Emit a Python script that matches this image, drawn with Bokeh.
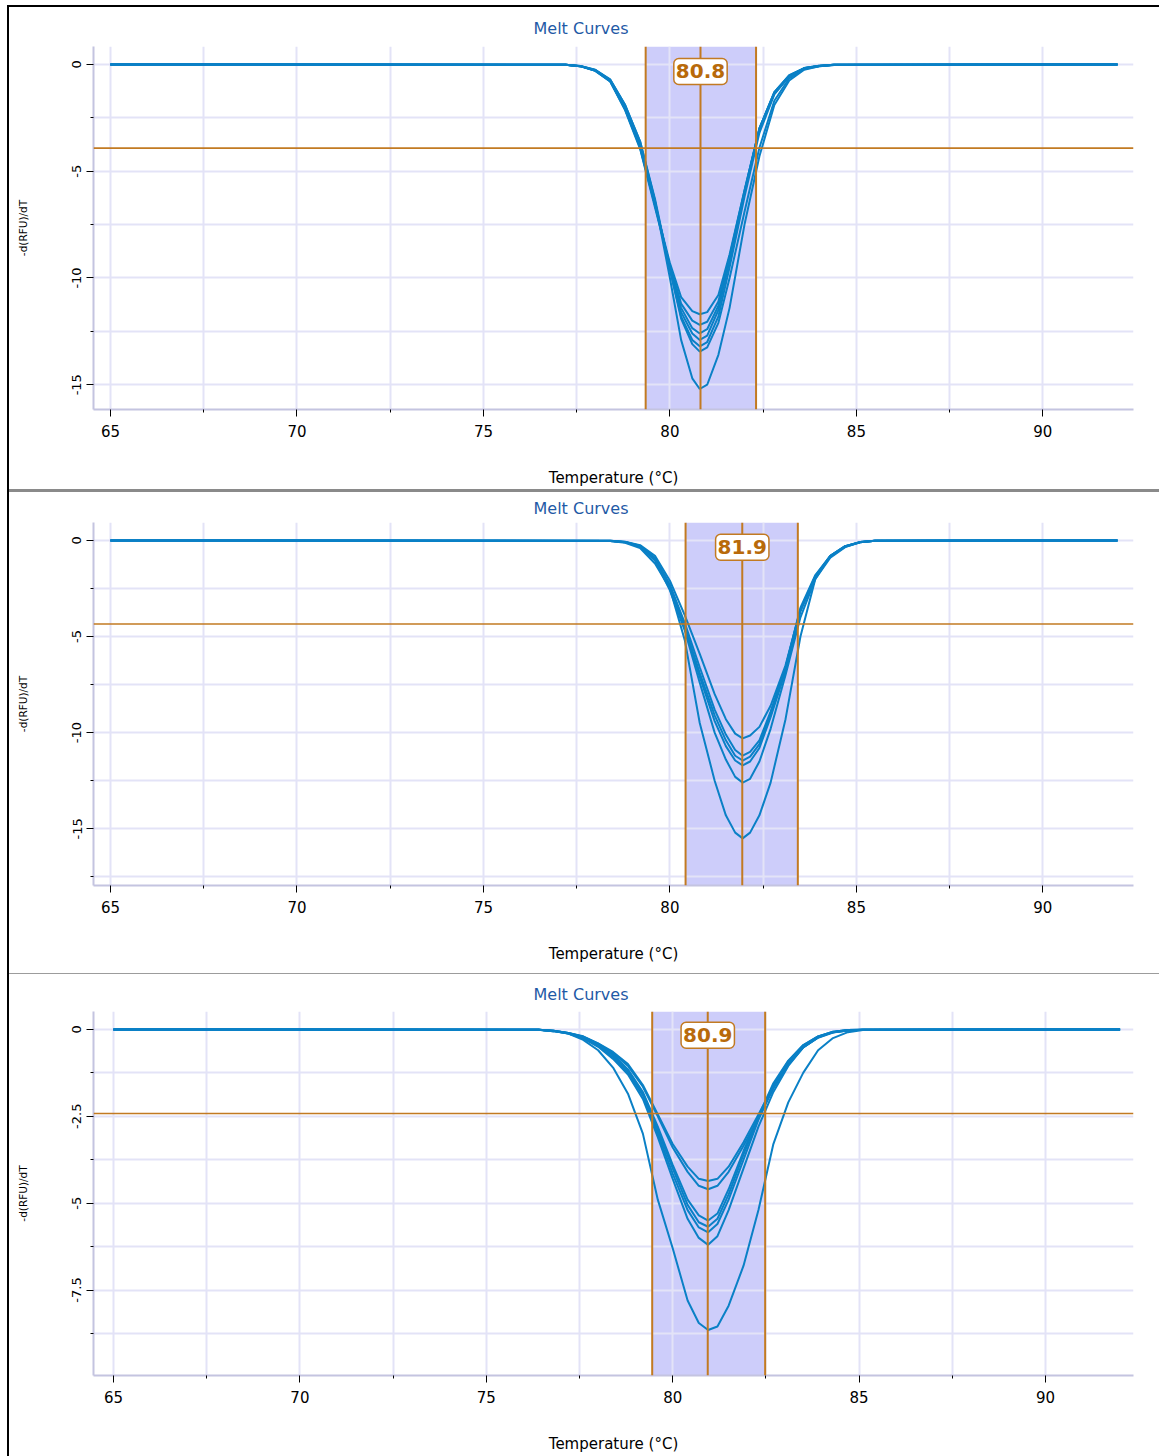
from bokeh.plotting import figure
from bokeh.models import (Span, BoxAnnotation, Label, FixedTicker, Range1d, Div, Spacer)
from bokeh.layouts import column, row
from bokeh.embed import file_html
from bokeh.resources import INLINE

# ---------------- text ----------------
TITLE = "Melt Curves"
X_LABEL = "Temperature (°C)"
Y_LABEL = "-d(RFU)/dT"

x_ticks = [65, 70, 75, 80, 85, 90]
x_tick_labels = ["65", "70", "75", "80", "85", "90"]
x_minor_ticks = [67.5, 72.5, 77.5, 82.5, 87.5]

# ---------------- panel 1 ----------------
p1_temp = [65.0, 77.2, 77.6, 78.0, 78.4, 78.8, 79.2, 79.6, 80.0, 80.3, 80.6, 80.8,
           81.0, 81.3, 81.6, 82.0, 82.4, 82.8, 83.2, 83.6, 84.0, 84.4, 92.0]
p1_well_1 = [0, -0.02, -0.08, -0.28, -0.78, -2.1, -3.9, -6.6, -9.3, -10.9, -11.55, -11.7,
             -11.6, -10.8, -8.9, -5.9, -3.0, -1.35, -0.55, -0.18, -0.07, -0.02, 0]
p1_well_2 = [0, -0.02, -0.08, -0.3, -0.8, -2.15, -3.95, -6.7, -9.4, -11.2, -12.0, -12.2,
             -12.05, -11.1, -9.0, -5.9, -3.0, -1.3, -0.52, -0.17, -0.06, -0.02, 0]
p1_well_3 = [0, -0.02, -0.09, -0.3, -0.8, -2.1, -3.85, -6.6, -9.5, -11.4, -12.35, -12.6,
             -12.4, -11.3, -9.1, -6.0, -3.05, -1.35, -0.53, -0.18, -0.07, -0.02, 0]
p1_well_4 = [0, -0.02, -0.08, -0.28, -0.76, -2.0, -3.8, -6.5, -9.5, -11.6, -12.6, -12.9,
             -12.7, -11.5, -9.2, -6.0, -3.0, -1.3, -0.5, -0.17, -0.06, -0.02, 0]
p1_well_5 = [0, -0.02, -0.08, -0.27, -0.74, -1.95, -3.7, -6.4, -9.6, -11.8, -12.9, -13.2,
             -13.0, -11.8, -9.5, -6.2, -3.2, -1.4, -0.56, -0.19, -0.07, -0.02, 0]
p1_well_6 = [0, -0.02, -0.07, -0.25, -0.7, -1.9, -3.6, -6.3, -9.6, -11.9, -13.1, -13.45,
             -13.25, -12.1, -10.0, -6.9, -3.9, -1.7, -0.65, -0.22, -0.08, -0.03, 0]
p1_well_7 = [0, -0.02, -0.07, -0.26, -0.72, -1.9, -3.6, -6.4, -10.0, -12.9, -14.7, -15.2,
             -15.0, -13.6, -11.4, -7.5, -4.3, -1.9, -0.75, -0.25, -0.09, -0.03, 0]
p1_peak = 80.82
p1_peak_text = "80.8"
p1_band = [79.35, 82.31]
p1_threshold = -3.92
p1_y_ticks = [0, -5, -10, -15]
p1_y_tick_labels = ["0", "-5", "-10", "-15"]
p1_y_minor = [-2.5, -7.5, -12.5]

# ---------------- panel 2 ----------------
p2_temp = [65.0, 78.4, 78.8, 79.2, 79.6, 80.0, 80.4, 80.8, 81.2, 81.5, 81.75, 81.95,
           82.15, 82.4, 82.7, 83.1, 83.5, 83.9, 84.3, 84.7, 85.1, 85.5, 92.0]
p2_well_1 = [0, -0.02, -0.07, -0.25, -0.8, -2.1, -3.9, -5.9, -8.0, -9.3, -10.05, -10.3,
             -10.15, -9.7, -8.6, -6.5, -3.6, -1.9, -0.85, -0.33, -0.1, -0.02, 0]
p2_well_2 = [0, -0.02, -0.08, -0.28, -0.9, -2.3, -4.3, -6.6, -8.8, -10.1, -10.9, -11.2,
             -11.0, -10.4, -8.9, -6.6, -3.6, -1.85, -0.8, -0.3, -0.09, -0.02, 0]
p2_well_3 = [0, -0.02, -0.08, -0.3, -0.95, -2.4, -4.5, -6.9, -9.1, -10.4, -11.2, -11.45,
             -11.25, -10.6, -9.0, -6.6, -3.5, -1.8, -0.8, -0.3, -0.09, -0.02, 0]
p2_well_4 = [0, -0.03, -0.1, -0.32, -1.0, -2.5, -4.6, -7.1, -9.4, -10.7, -11.45, -11.7,
             -11.5, -10.8, -9.2, -6.8, -3.7, -1.9, -0.85, -0.32, -0.1, -0.02, 0]
p2_well_5 = [0, -0.03, -0.1, -0.35, -1.05, -2.6, -4.7, -7.4, -10.0, -11.4, -12.3, -12.6,
             -12.4, -11.5, -9.8, -7.0, -4.0, -2.0, -0.9, -0.35, -0.1, -0.02, 0]
p2_well_6 = [0, -0.03, -0.12, -0.4, -1.2, -2.5, -5.2, -9.5, -12.5, -14.3, -15.2, -15.5,
             -15.2, -14.3, -12.6, -9.3, -5.0, -2.0, -0.8, -0.3, -0.08, -0.02, 0]
p2_peak = 81.94
p2_peak_text = "81.9"
p2_band = [80.42, 83.43]
p2_threshold = -4.35
p2_y_ticks = [0, -5, -10, -15]
p2_y_tick_labels = ["0", "-5", "-10", "-15"]
p2_y_minor = [-2.5, -7.5, -12.5, -17.5]

# ---------------- panel 3 ----------------
p3_temp = [65.0, 76.4, 76.8, 77.2, 77.6, 78.0, 78.4, 78.8, 79.2, 79.6, 80.0, 80.4, 80.7,
           80.95, 81.2, 81.5, 81.9, 82.3, 82.7, 83.1, 83.5, 83.9, 84.3, 84.7, 85.1, 92.0]
p3_well_1 = [0, -0.01, -0.04, -0.1, -0.2, -0.4, -0.65, -1.0, -1.6, -2.45, -3.3, -3.95, -4.3,
             -4.36, -4.3, -3.95, -3.25, -2.45, -1.65, -1.0, -0.52, -0.24, -0.09, -0.03, -0.01, 0]
p3_well_2 = [0, -0.01, -0.04, -0.1, -0.21, -0.41, -0.68, -1.05, -1.65, -2.5, -3.4, -4.1, -4.5,
             -4.6, -4.5, -4.1, -3.35, -2.55, -1.7, -1.02, -0.52, -0.23, -0.08, -0.03, -0.01, 0]
p3_well_3 = [0, -0.01, -0.04, -0.1, -0.22, -0.42, -0.72, -1.15, -1.8, -2.8, -3.9, -4.9, -5.35,
             -5.5, -5.3, -4.6, -3.5, -2.5, -1.55, -0.9, -0.45, -0.2, -0.07, -0.02, -0.01, 0]
p3_well_4 = [0, -0.01, -0.04, -0.11, -0.23, -0.44, -0.75, -1.2, -1.85, -2.9, -4.0, -5.05, -5.55,
             -5.68, -5.45, -4.75, -3.6, -2.55, -1.6, -0.92, -0.46, -0.2, -0.07, -0.02, -0.01, 0]
p3_well_5 = [0, -0.01, -0.05, -0.12, -0.25, -0.47, -0.8, -1.25, -1.9, -3.0, -4.15, -5.2, -5.7,
             -5.84, -5.6, -4.9, -3.75, -2.6, -1.65, -0.95, -0.48, -0.21, -0.08, -0.02, -0.01, 0]
p3_well_6 = [0, -0.01, -0.05, -0.12, -0.26, -0.5, -0.85, -1.3, -2.0, -3.1, -4.3, -5.45, -6.0,
             -6.2, -5.95, -5.2, -4.0, -2.8, -1.8, -1.05, -0.52, -0.23, -0.08, -0.03, -0.01, 0]
p3_well_7 = [0, -0.01, -0.05, -0.12, -0.3, -0.6, -1.1, -1.85, -3.0, -4.9, -6.3, -7.8, -8.45,
             -8.65, -8.55, -7.95, -6.8, -5.2, -3.3, -2.1, -1.25, -0.6, -0.25, -0.08, -0.02, 0]
p3_peak = 80.94
p3_peak_text = "80.9"
p3_band = [79.45, 82.48]
p3_threshold = -2.42
p3_y_ticks = [0, -2.5, -5, -7.5]
p3_y_tick_labels = ["0", "-2.5", "-5", "-7.5"]
p3_y_minor = [-1.25, -3.75, -6.25, -8.75]

# ---------------- style ----------------
FONT = "DejaVu Sans"
CURVE = "#0a80c6"
ORANGE = "#c27a22"
PEAK_TEXT = "#b86a0a"
BAND = "#cdcdfa"
GRID = "#e3e3f7"
AXIS = "#c4c4e0"
TITLE_COLOR = "#1f5aa6"


def make_panel(temp, wells, peak, peak_text, band, thr, yt, ytl, yminor,
               xr, yr, height, tb, bb, label_y, title_standoff):
    p = figure(width=1150, height=height, x_range=Range1d(*xr), y_range=Range1d(*yr),
               output_backend="svg", toolbar_location=None, title=TITLE,
               min_border_left=84, min_border_right=26, min_border_top=tb,
               min_border_bottom=bb)
    p.background_fill_color = "white"
    p.border_fill_color = "white"
    p.outline_line_color = None

    p.title.text_font = FONT
    p.title.text_font_size = "16px"
    p.title.text_font_style = "normal"
    p.title.text_color = TITLE_COLOR
    p.title.align = "left"
    p.title.offset = 440
    p.title.standoff = title_standoff

    p.add_layout(BoxAnnotation(left=band[0], right=band[1], fill_color=BAND,
                               fill_alpha=1.0, line_alpha=0, level="image"))

    for w in wells:
        p.line(temp, w, line_color=CURVE, line_width=2)

    for loc in (band[0], band[1], peak):
        p.add_layout(Span(location=loc, dimension="height", line_color=ORANGE, line_width=2))
    p.add_layout(Span(location=thr, dimension="width", line_color=ORANGE, line_width=1.6))

    p.add_layout(Label(x=peak, y=label_y, text=peak_text, text_align="center",
                       text_baseline="middle", text_font=FONT, text_font_size="20px",
                       text_font_style="bold", text_color=PEAK_TEXT,
                       background_fill_color="white", border_line_color=ORANGE,
                       border_line_width=1.5, padding=(2, 6), border_radius=5))

    xa = p.xaxis[0]
    xa.ticker = FixedTicker(ticks=x_ticks, minor_ticks=x_minor_ticks)
    xa.major_label_overrides = {t: l for t, l in zip(x_ticks, x_tick_labels)}
    xa.axis_label = X_LABEL
    ya = p.yaxis[0]
    ya.ticker = FixedTicker(ticks=yt, minor_ticks=yminor)
    ya.major_label_overrides = {t: l for t, l in zip(yt, ytl)}
    ya.major_label_orientation = "vertical"
    ya.axis_label = Y_LABEL

    for ax in (xa, ya):
        ax.axis_line_color = AXIS
        ax.axis_line_width = 2
        ax.major_tick_line_color = "black"
        ax.major_tick_out = 7
        ax.major_tick_in = 0
        ax.minor_tick_line_color = "black"
        ax.minor_tick_out = 3
        ax.minor_tick_in = 0
        ax.major_label_text_font = FONT
        ax.major_label_text_color = "black"
        ax.axis_label_text_font = FONT
        ax.axis_label_text_font_style = "normal"
        ax.axis_label_text_color = "black"
    xa.major_label_text_font_size = "15px"
    ya.major_label_text_font_size = "13px"
    xa.axis_label_text_font_size = "15px"
    ya.axis_label_text_font_size = "10.5px"
    xa.major_label_standoff = 8
    xa.axis_label_standoff = 29
    ya.major_label_standoff = 5
    ya.axis_label_standoff = 41

    for g in (p.xgrid[0], p.ygrid[0]):
        g.grid_line_color = GRID
        g.grid_line_width = 2
        g.minor_grid_line_color = GRID
        g.minor_grid_line_width = 2
    return p


p1 = make_panel(p1_temp, [p1_well_1, p1_well_2, p1_well_3, p1_well_4, p1_well_5, p1_well_6, p1_well_7],
                p1_peak, p1_peak_text, p1_band, p1_threshold, p1_y_ticks, p1_y_tick_labels, p1_y_minor,
                (64.545, 92.43), (-16.16, 0.84), 482, 38, 79, -0.33, 18)
p2 = make_panel(p2_temp, [p2_well_1, p2_well_2, p2_well_3, p2_well_4, p2_well_5, p2_well_6],
                p2_peak, p2_peak_text, p2_band, p2_threshold, p2_y_ticks, p2_y_tick_labels, p2_y_minor,
                (64.545, 92.43), (-17.95, 0.93), 481, 28, 88, -0.36, 9)
p3 = make_panel(p3_temp, [p3_well_1, p3_well_2, p3_well_3, p3_well_4, p3_well_5, p3_well_6, p3_well_7],
                p3_peak, p3_peak_text, p3_band, p3_threshold, p3_y_ticks, p3_y_tick_labels, p3_y_minor,
                (64.464, 92.36), (-9.96, 0.515), 482, 35, 81, -0.17, 16)

black = {"background-color": "black"}
sep1 = Div(width=1150, height=3, margin=0, styles={"background-color": "#8a8a8a"})
sep2 = Div(width=1150, height=1, margin=0, styles={"background-color": "#9c9c9c"})
panels = column(p1, sep1, p2, sep2, p3)

layout = column(
    Spacer(width=1159, height=5),
    row(Spacer(width=7, height=2), Div(width=1152, height=2, margin=0, styles=black)),
    row(Spacer(width=7, height=1449), Div(width=2, height=1449, margin=0, styles=black), panels),
)

open("out.html", "w").write(file_html(layout, INLINE))
